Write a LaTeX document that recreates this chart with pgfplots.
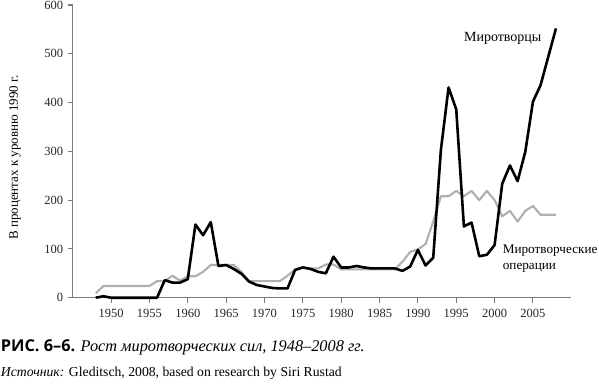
\documentclass[border=0pt]{standalone}
\usepackage{fontspec}
\setmainfont{Liberation Serif}
\newfontfamily\capsans{Open Sans}
\usepackage{pgfplots}
\pgfplotsset{compat=1.18}
\definecolor{axgray}{HTML}{7A7A7A}
\definecolor{lgray}{HTML}{AFAFAF}
\begin{document}
\begin{tikzpicture}
\useasboundingbox (-72.7pt,-90.3pt) rectangle (526.3pt,297.7pt);
\begin{axis}[
  at={(0pt,0pt)}, anchor=south west,
  scale only axis, width=498.6pt, height=292.7pt,
  xmin=1945, xmax=2010, ymin=0, ymax=600,
  axis x line=bottom, axis y line=left,
  axis line style={axgray, line width=1.2pt, -},
  xtick={1950,1955,...,2005}, ytick={0,100,...,600},
  tick style={axgray, line width=1.1pt},
  xtick align=outside, ytick align=outside,
  major tick length=5pt,
  /pgf/number format/assume math mode=true,
  /pgf/number format/set thousands separator={},
  ticklabel style={font=\fontsize{12.5}{14}\selectfont, text=black!85},
  xticklabel style={yshift=-3pt},
  yticklabel style={xshift=-1pt},
  clip=false,
]
\addplot[lgray, line width=2.1pt, line join=round] coordinates {
(1948,9)(1949,24)(1950,24)(1951,24)(1952,24)(1953,24)(1954,24)(1955,24)
(1956,34)(1957,34)(1958,45)(1959,35)(1960,44)(1961,44)(1962,53)(1963,67)
(1964,67)(1965,67)(1966,67)(1967,53)(1968,34)(1969,34)(1970,34)(1971,34)
(1972,34)(1973,45)(1974,58)(1975,62)(1976,60)(1977,60)(1978,68)(1979,68)
(1980,58)(1981,58)(1982,58)(1983,58)(1984,58)(1985,58)(1986,58)(1987,58)
(1988,74)(1989,94)(1990,99)(1991,110)(1992,156)(1993,208)(1994,208)(1995,219)
(1996,208)(1997,219)(1998,200)(1999,219)(2000,200)(2001,167)(2002,178)(2003,156)
(2004,178)(2005,188)(2006,170)(2007,170)(2008,170)};
\addplot[black, line width=2.6pt, line join=round] coordinates {
(1948,0)(1949,3)(1950,0)(1951,0)(1952,0)(1953,0)(1954,0)(1955,0)
(1956,0)(1957,36)(1958,31)(1959,31)(1960,38)(1961,150)(1962,128)(1963,155)
(1964,65)(1965,67)(1966,59)(1967,49)(1968,33)(1969,26)(1970,23)(1971,20)
(1972,19)(1973,19)(1974,57)(1975,62)(1976,59)(1977,53)(1978,50)(1979,84)
(1980,62)(1981,62)(1982,65)(1983,62)(1984,60)(1985,60)(1986,60)(1987,60)
(1988,55)(1989,64)(1990,98)(1991,66)(1992,82)(1993,303)(1994,431)(1995,386)
(1996,146)(1997,154)(1998,85)(1999,88)(2000,108)(2001,234)(2002,271)(2003,239)
(2004,299)(2005,402)(2006,436)(2007,494)(2008,552)};
\node[anchor=base west, inner sep=0pt, font=\fontsize{14}{16}\selectfont] at (axis cs:1996,525) {Миротворцы};
\node[anchor=base west, inner sep=0pt, font=\fontsize{13.2}{16}\selectfont] at (axis cs:2001.05,91) {Миротворческие};
\node[anchor=base west, inner sep=0pt, font=\fontsize{13.2}{16}\selectfont] at (axis cs:2001.05,58) {операции};
\end{axis}
\node[rotate=90, inner sep=0pt, font=\fontsize{13}{15}\selectfont] at (-57.7pt,140.2pt) {В процентах к уровню 1990 г.};
\node[anchor=base west, inner sep=0pt, font=\fontsize{16.3}{18}\selectfont] at (-72pt,-54pt) {{\capsans\bfseries РИС. 6–6.} \itshape Рост миротворческих сил, 1948–2008 гг.};
\node[anchor=base west, inner sep=0pt, font=\fontsize{13.7}{15}\selectfont] at (-72pt,-79pt) {\itshape Источник:\upshape{} Gleditsch, 2008, based on research by Siri Rustad};
\end{tikzpicture}
\end{document}
